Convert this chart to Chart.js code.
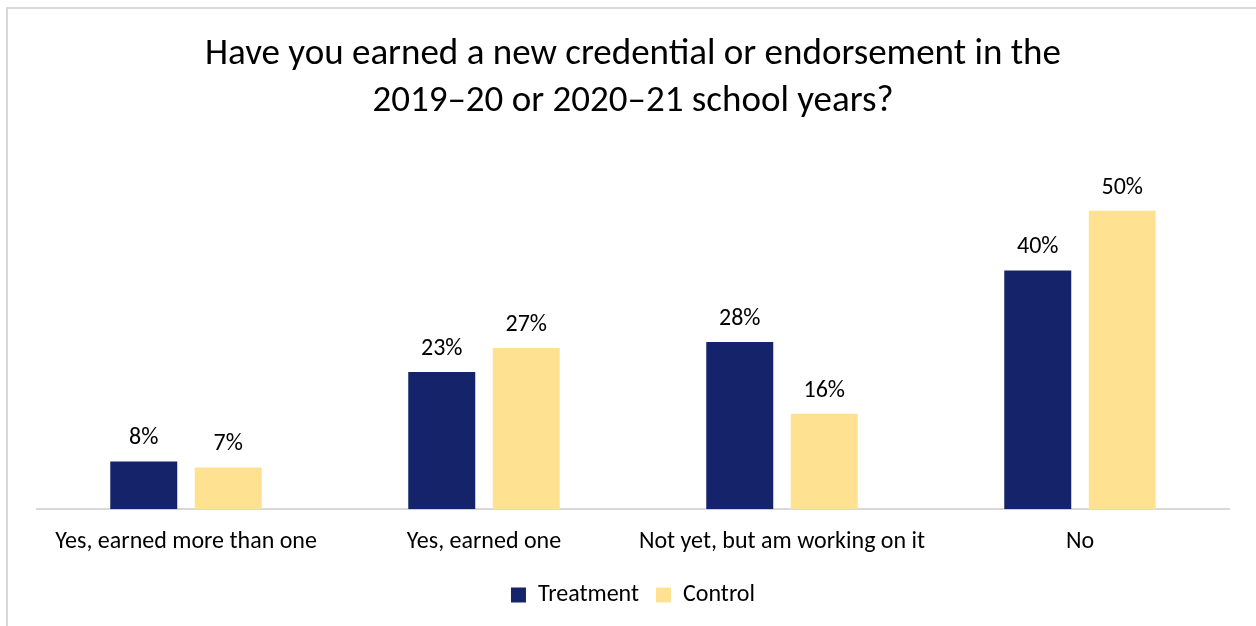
<!DOCTYPE html>
<html>
<head>
<meta charset="utf-8">
<script src="https://cdn.jsdelivr.net/npm/chart.js@4.4.1/dist/chart.umd.min.js"></script>
<style>
  body { margin: 0; background: #fff; }
  #frame { position: absolute; left: 6px; top: 7px; width: 1260px; height: 630px; border: 2px solid #d9d9d9; box-sizing: border-box; }
  #wrap { position: absolute; left: 0; top: 0; width: 1256px; height: 626px; }
</style>
</head>
<body>
<div id="frame"></div>
<div id="wrap"><canvas id="myChart"></canvas></div>
<script>
const categories = ['Yes, earned more than one', 'Yes, earned one', 'Not yet, but am working on it', 'No'];
const treatment = [8, 23, 28, 40];
const control = [7, 27, 16, 50];

const fontFamily = 'Carlito, Calibri, Lato, sans-serif';

// value labels above each bar
const barLabels = {
  id: 'barLabels',
  afterDatasetsDraw(chart) {
    const ctx = chart.ctx;
    ctx.save();
    ctx.font = '24px ' + fontFamily;
    ctx.fillStyle = '#000';
    ctx.textAlign = 'center';
    ctx.textBaseline = 'alphabetic';
    chart.data.datasets.forEach((ds, i) => {
      chart.getDatasetMeta(i).data.forEach((bar, j) => {
        ctx.fillText(ds.data[j] + '%', bar.x, bar.y - 17);
      });
    });
    ctx.restore();
  },
};

new Chart(document.getElementById('myChart'), {
  type: 'bar',
  plugins: [barLabels],
  data: {
    labels: categories,
    datasets: [
      { label: 'Treatment', data: treatment, backgroundColor: '#14236a' },
      { label: 'Control', data: control, backgroundColor: '#fee292' },
    ],
  },
  options: {
    responsive: true,
    maintainAspectRatio: false,
    animation: false,
    datasets: { bar: { categoryPercentage: 0.567, barPercentage: 0.793 } },
    layout: { padding: { left: 37, right: 27, top: 31, bottom: 9 } },
    scales: {
      x: {
        grid: { display: false },
        border: { color: '#d9d9d9', width: 2 },
        ticks: { color: '#000', font: { family: fontFamily, size: 24 }, padding: 10 },
      },
      y: { display: false, min: 0, max: 60 },
    },
    plugins: {
      title: {
        display: true,
        text: ['Have you earned a new credential or endorsement in the', '2019\u201320 or 2020\u201321 school years?'],
        color: '#000',
        font: { family: fontFamily, size: 37, weight: 'normal', lineHeight: 1.27 },
        padding: { top: 0, bottom: 26 },
      },
      legend: {
        position: 'bottom',
        labels: { color: '#000', font: { family: fontFamily, size: 24 }, boxWidth: 15, boxHeight: 15, padding: 17 },
      },
      tooltip: { enabled: false },
    },
  },
});
</script>
</body>
</html>
